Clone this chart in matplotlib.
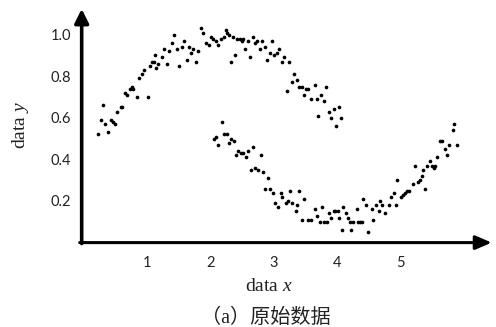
import matplotlib
matplotlib.use("Agg")
import matplotlib.pyplot as plt

# ---- data ----
upper_x = [0.22, 0.39, 0.30, 0.27, 0.34, 0.43, 0.46, 0.50, 0.53, 0.59,
           0.60, 0.65, 0.69, 0.73, 0.77, 0.78, 0.85, 1.01, 0.88, 0.92,
           0.95, 1.04, 1.08, 1.11, 1.15, 1.18, 1.23, 1.31, 1.13, 1.27,
           1.35, 1.39, 1.43, 1.48, 1.50, 1.55, 1.59, 1.63, 1.67, 1.70,
           1.73, 1.78, 1.80, 1.85, 1.89, 1.94, 1.98, 2.01, 2.05, 2.09,
           2.12, 2.17, 2.21, 2.25, 2.27, 2.29, 2.33, 2.39, 2.36, 2.42,
           2.47, 2.50, 2.52, 2.55, 2.59, 2.63, 2.67, 2.71, 2.74, 2.79,
           2.82, 2.86, 2.90, 2.94, 2.98, 3.01, 3.05, 3.09, 3.14, 3.17,
           3.25, 3.32, 3.29, 3.37, 3.21, 3.40, 3.45, 3.51, 3.55, 3.65,
           3.49, 3.59, 3.68, 3.75, 3.80, 3.83, 3.71, 3.87, 3.95, 4.03,
           3.91, 4.07, 3.99]
upper_y = [0.52, 0.53, 0.66, 0.59, 0.57, 0.59, 0.58, 0.57, 0.63, 0.65,
           0.65, 0.72, 0.71, 0.74, 0.75, 0.74, 0.70, 0.70, 0.79, 0.81,
           0.83, 0.85, 0.87, 0.87, 0.84, 0.86, 0.89, 0.86, 0.90, 0.93,
           0.92, 0.96, 1.00, 0.93, 0.85, 0.94, 0.97, 0.88, 0.94, 0.91,
           0.93, 0.87, 0.92, 1.03, 1.01, 0.96, 0.95, 0.99, 0.98, 0.97,
           0.95, 0.98, 0.99, 1.02, 1.01, 1.00, 0.87, 0.90, 0.99, 0.98,
           0.98, 0.97, 0.98, 0.93, 0.97, 0.89, 0.99, 0.96, 0.97, 0.93,
           0.97, 0.94, 0.88, 0.91, 0.97, 0.90, 0.91, 0.93, 0.87, 0.89,
           0.87, 0.81, 0.77, 0.78, 0.73, 0.75, 0.75, 0.74, 0.74, 0.76,
           0.71, 0.69, 0.69, 0.71, 0.68, 0.75, 0.61, 0.63, 0.64, 0.65,
           0.60, 0.60, 0.56]

lower_x = [2.18, 2.06, 2.09, 2.13, 2.22, 2.26, 2.29, 2.33, 2.37, 2.40,
           2.44, 2.49, 2.52, 2.56, 2.60, 2.68, 2.80, 2.65, 2.71, 2.76,
           2.84, 2.92, 2.87, 2.95, 3.00, 3.12, 3.26, 3.41, 3.14, 3.02,
           3.07, 3.19, 3.23, 3.30, 3.37, 3.35, 3.48, 3.45, 3.55, 3.59,
           3.66, 3.68, 3.74, 3.76, 3.80, 3.84, 3.88, 3.91, 3.96, 3.98,
           4.02, 4.04, 4.10, 4.14, 4.17, 4.21, 4.26, 4.32, 4.34, 4.37,
           4.40, 4.08, 4.23, 4.50, 4.42, 4.46, 4.55, 4.58, 4.62, 4.66,
           4.69, 4.72, 4.76, 4.82, 4.93, 4.86, 4.91, 4.96, 5.02, 5.05,
           5.08, 5.11, 5.15, 5.21, 5.28, 5.31, 5.34, 5.40, 5.24, 5.37,
           5.42, 5.47, 5.51, 5.54, 5.55, 5.59, 5.75, 5.71, 5.78, 5.90,
           5.63, 5.66, 5.83, 5.86]
lower_y = [0.58, 0.50, 0.51, 0.47, 0.52, 0.52, 0.48, 0.50, 0.49, 0.42,
           0.44, 0.43, 0.43, 0.41, 0.44, 0.46, 0.42, 0.35, 0.36, 0.35,
           0.34, 0.31, 0.26, 0.26, 0.24, 0.24, 0.25, 0.25, 0.22, 0.19,
           0.17, 0.19, 0.20, 0.19, 0.18, 0.15, 0.21, 0.11, 0.11, 0.11,
           0.16, 0.13, 0.10, 0.17, 0.10, 0.10, 0.14, 0.12, 0.15, 0.15,
           0.15, 0.12, 0.17, 0.14, 0.12, 0.10, 0.10, 0.16, 0.10, 0.10,
           0.10, 0.06, 0.06, 0.05, 0.21, 0.18, 0.16, 0.11, 0.18, 0.15,
           0.20, 0.18, 0.14, 0.18, 0.18, 0.22, 0.24, 0.30, 0.22, 0.23,
           0.24, 0.25, 0.25, 0.28, 0.29, 0.30, 0.32, 0.26, 0.37, 0.35,
           0.37, 0.39, 0.37, 0.36, 0.37, 0.41, 0.42, 0.45, 0.47, 0.47,
           0.49, 0.49, 0.54, 0.57]

x_ticks = [1, 2, 3, 4, 5]
x_tick_labels = ["1", "2", "3", "4", "5"]
y_ticks = [0.2, 0.4, 0.6, 0.8, 1.0]
y_tick_labels = ["0.2", "0.4", "0.6", "0.8", "1.0"]
x_label = "data $x$"
y_label = "data $y$"
caption = "（a）原始数据"

# ---- style ----
plt.rcParams["mathtext.fontset"] = "custom"
plt.rcParams["mathtext.rm"] = "Liberation Serif"
plt.rcParams["mathtext.it"] = "Liberation Serif:italic"

fig = plt.figure(figsize=(4.96, 3.27), dpi=100)
ax = fig.add_axes([0.1688, 0.2581, 0.8226, 0.7061])
ax.set_xlim(0, 6.45)
ax.set_ylim(0, 1.11)
for s in ax.spines.values():
    s.set_visible(False)

ax.scatter(upper_x, upper_y, s=7, c="black", linewidths=0, clip_on=False)
ax.scatter(lower_x, lower_y, s=7, c="black", linewidths=0, clip_on=False)

ax.set_xticks(x_ticks)
ax.set_xticklabels(x_tick_labels)
ax.set_yticks(y_ticks)
ax.set_yticklabels(y_tick_labels)
ax.tick_params(axis="x", length=0, pad=10, labelsize=10.5, labelcolor="#222222")
ax.tick_params(axis="y", length=0, pad=9, labelsize=10.5, labelcolor="#222222")
for lab in ax.get_xticklabels() + ax.get_yticklabels():
    lab.set_family("Lato")

# axis arrows
ax.annotate("", xy=(1.0, 0.0), xytext=(-0.01, 0.0), xycoords="axes fraction",
            textcoords="axes fraction", annotation_clip=False,
            arrowprops=dict(arrowstyle="-|>,head_length=0.7,head_width=0.3",
                            lw=2.2, color="black", mutation_scale=14,
                            shrinkA=0, shrinkB=0))
ax.annotate("", xy=(-0.005, 1.012), xytext=(-0.005, -0.004), xycoords="axes fraction",
            textcoords="axes fraction", annotation_clip=False,
            arrowprops=dict(arrowstyle="-|>,head_length=0.6,head_width=0.3",
                            lw=2.6, color="black", mutation_scale=14,
                            shrinkA=0, shrinkB=0))

ax.text(0.454, -0.188, x_label, transform=ax.transAxes, ha="center", va="center",
        fontsize=14, family="Liberation Serif", color="#222222")
ax.text(-0.156, 0.509, y_label, transform=ax.transAxes, ha="center", va="center",
        rotation=90, fontsize=14, family="Liberation Serif", color="#222222")

fig.text(266 / 496, 1 - 318 / 327, caption, ha="center", va="center",
         fontsize=14.5, family=["Liberation Serif", "Noto Sans CJK SC"], color="#222222")

fig.savefig("out.png", dpi=100)
